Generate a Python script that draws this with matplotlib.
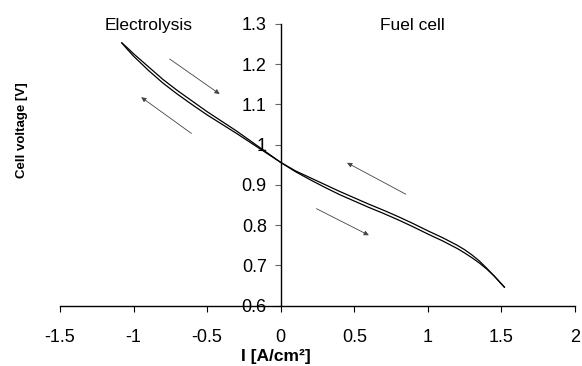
import matplotlib
matplotlib.use("Agg")
import matplotlib.pyplot as plt

plt.rcParams['font.family'] = ['Liberation Sans', 'DejaVu Sans']

# Current density [A/cm2]
current = [-1.08, -1.04, -1.0, -0.9, -0.8, -0.7, -0.6, -0.5, -0.4, -0.3, -0.2, -0.1, 0.0,
           0.1, 0.2, 0.3, 0.4, 0.5, 0.6, 0.7, 0.8, 0.9, 1.0, 1.1, 1.2, 1.25, 1.3, 1.35,
           1.4, 1.45, 1.5, 1.52]
# Cell voltage [V], two sweeps
voltage_up = [1.253, 1.240, 1.226, 1.194, 1.162, 1.134, 1.108, 1.082, 1.058, 1.034, 1.008,
              0.982, 0.956, 0.935, 0.918, 0.901, 0.884, 0.868, 0.852, 0.837, 0.821,
              0.804, 0.786, 0.769, 0.750, 0.739, 0.726, 0.711, 0.693, 0.674, 0.654, 0.646]
voltage_down = [1.253, 1.236, 1.220, 1.185, 1.153, 1.125, 1.099, 1.074, 1.051, 1.028, 1.004,
                0.980, 0.956, 0.933, 0.913, 0.894, 0.876, 0.860, 0.844, 0.829, 0.813,
                0.796, 0.778, 0.761, 0.742, 0.731, 0.719, 0.706, 0.691, 0.674, 0.654, 0.646]

x_ticks = [-1.5, -1.0, -0.5, 0.0, 0.5, 1.0, 1.5, 2.0]
x_labels = ["-1.5", "-1", "-0.5", "0", "0.5", "1", "1.5", "2"]
y_ticks = [0.6, 0.7, 0.8, 0.9, 1.0, 1.1, 1.2, 1.3]
y_labels = ["0.6", "0.7", "0.8", "0.9", "1", "1.1", "1.2", "1.3"]

# sweep-direction arrows: (start, end) in data units
arrows = [((-0.755, 1.213), (-0.415, 1.126)),
          ((-0.607, 1.028), (-0.948, 1.118)),
          ((0.850, 0.877), (0.451, 0.955)),
          ((0.243, 0.841), (0.599, 0.775))]

fig = plt.figure(figsize=(5.82, 3.66), dpi=100)
ax = fig.add_axes([0.1031, 0.1648, 0.8849, 0.7697])

ax.plot(current, voltage_up, color='black', lw=0.9)
ax.plot(current, voltage_down, color='black', lw=0.9)

for (x0, y0), (x1, y1) in arrows:
    ax.annotate('', xy=(x1, y1), xytext=(x0, y0),
                arrowprops=dict(arrowstyle='-|>', color='#444444', lw=0.6,
                                mutation_scale=7, shrinkA=0, shrinkB=0))

ax.set_xlim(-1.5, 2.0)
ax.set_ylim(0.6, 1.3)
ax.spines['left'].set_position(('data', 0))
ax.spines['top'].set_visible(False)
ax.spines['right'].set_visible(False)
ax.spines['left'].set_linewidth(1.0)
ax.spines['bottom'].set_linewidth(1.0)

ax.set_xticks(x_ticks)
ax.set_xticklabels(x_labels)
ax.set_yticks(y_ticks)
ax.set_yticklabels(y_labels)
ax.tick_params(axis='x', direction='out', length=4, width=0.8, labelsize=13, pad=13)
ax.tick_params(axis='y', direction='out', length=4, width=0.8, color='#666666',
               labelsize=13, pad=6)

ax.text(-0.895, 1.297, 'Electrolysis', fontsize=12.5, ha='center', va='center')
ax.text(0.895, 1.297, 'Fuel cell', fontsize=12.5, ha='center', va='center')

fig.text(0.038, 0.645, 'Cell voltage [V]', rotation=90, fontsize=9.5,
         fontweight='bold', ha='center', va='center')
fig.text(0.474, 0.006, 'I [A/cm²]', fontsize=12.5, fontweight='bold',
         ha='center', va='bottom')

fig.savefig('out.png', dpi=100)
